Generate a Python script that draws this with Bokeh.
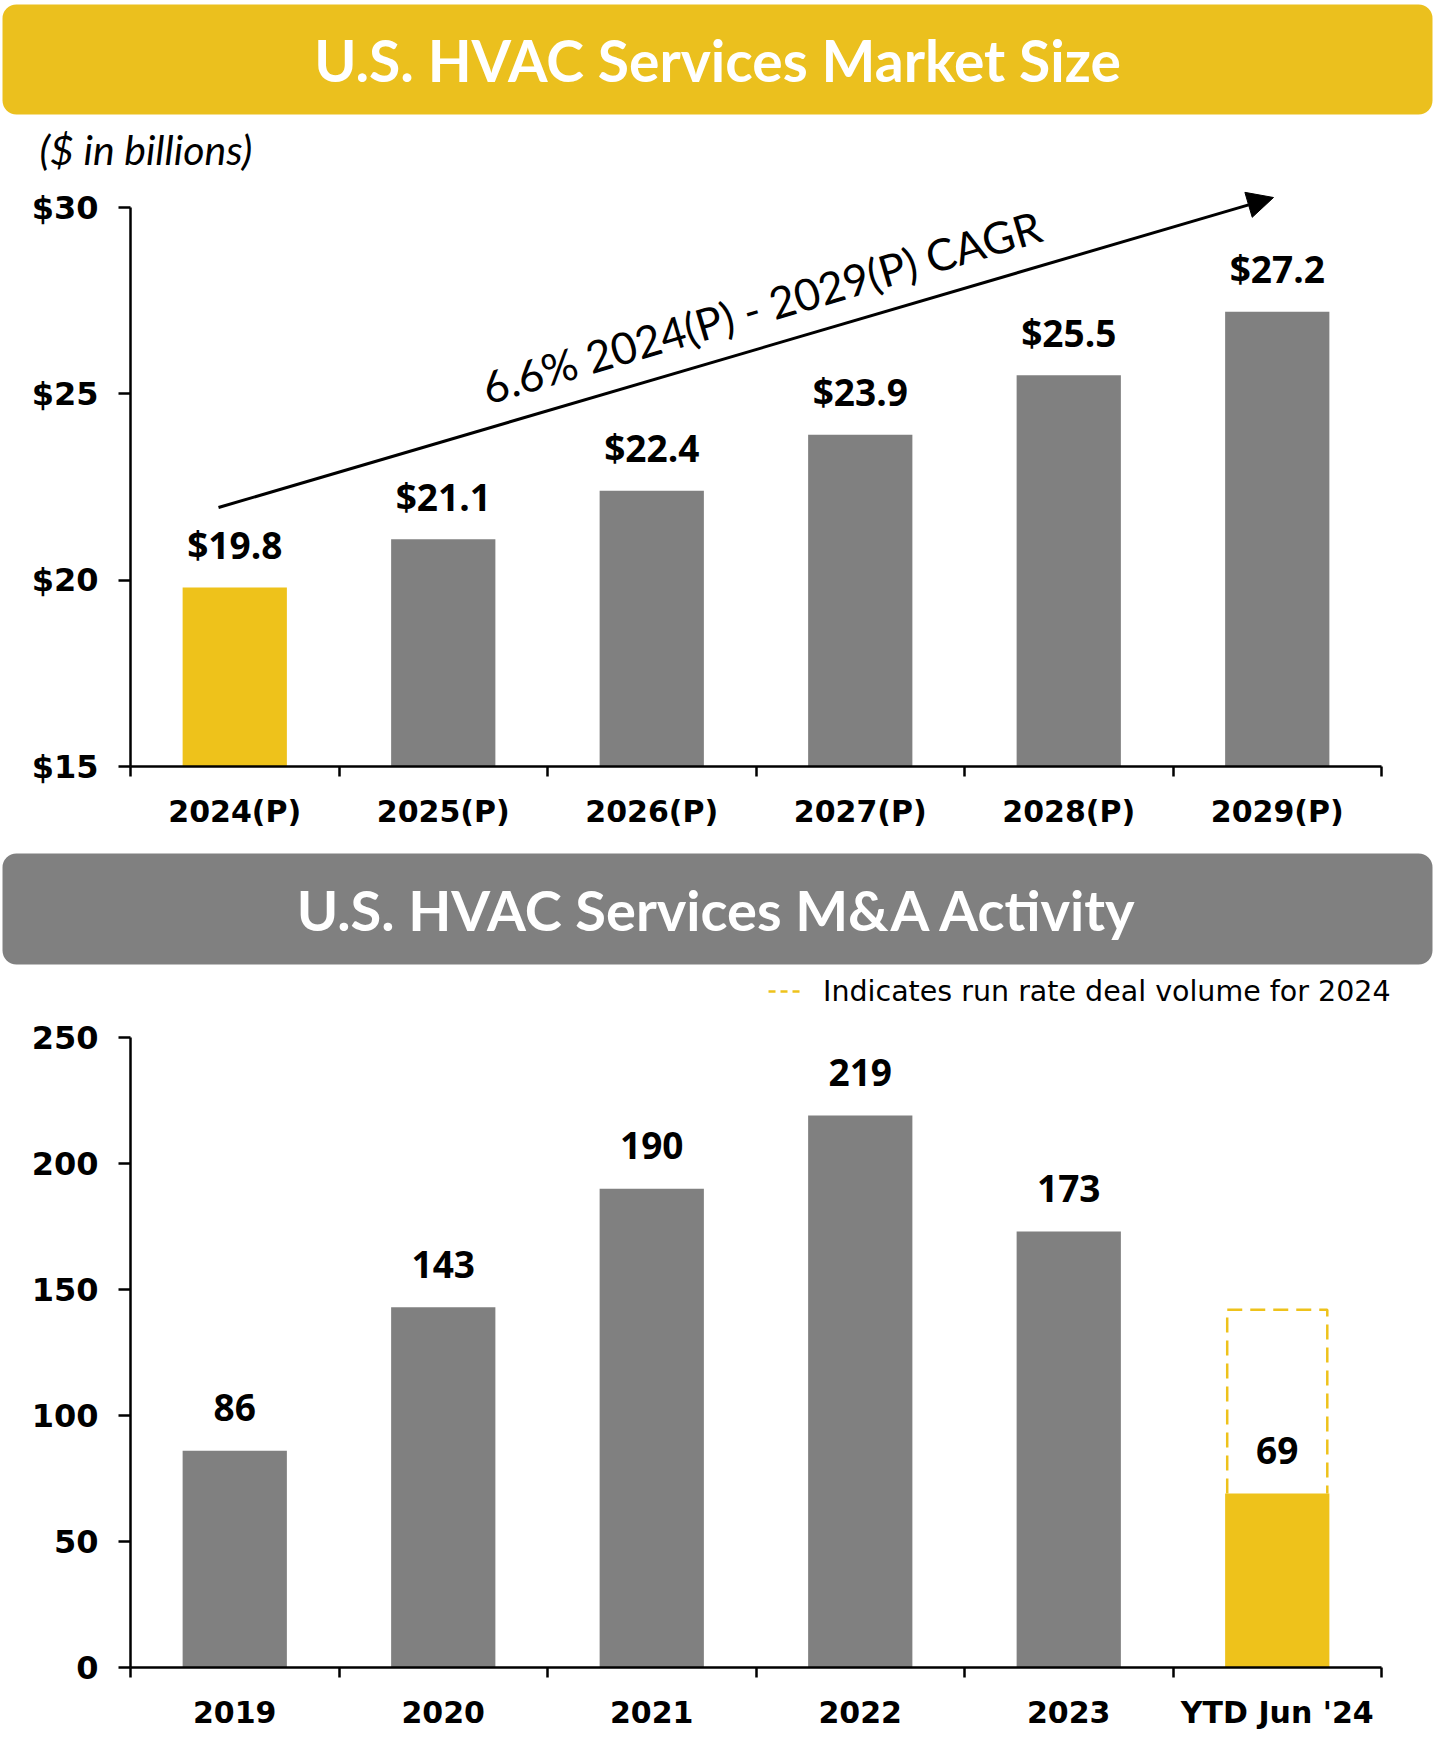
import math
from bokeh.plotting import figure
from bokeh.models import (Range1d, LinearAxis, FixedTicker, BoxAnnotation, Label,
                          Arrow, NormalHead, Legend, LegendItem, NumeralTickFormatter,
                          ColumnDataSource)
from bokeh.layouts import column
from bokeh.embed import file_html
from bokeh.resources import INLINE
from bokeh.core.properties import value

# ---------------- data ----------------
market_years = ["2024(P)", "2025(P)", "2026(P)", "2027(P)", "2028(P)", "2029(P)"]
market_size = [19.8, 21.1, 22.4, 23.9, 25.5, 27.2]
market_ticks = [15, 20, 25, 30]
market_title = "U.S. HVAC Services Market Size"
market_unit = "($ in billions)"
cagr_text = "6.6% 2024(P) - 2029(P) CAGR"

ma_years = ["2019", "2020", "2021", "2022", "2023", "YTD Jun '24"]
ma_deals = [86, 143, 190, 219, 173, 69]
ma_ticks = [0, 50, 100, 150, 200, 250]
ma_run_rate_2024 = 142
ma_title = "U.S. HVAC Services M&A Activity"
ma_legend = "Indicates run rate deal volume for 2024"

# ---------------- styles / layout ----------------
YELLOW = "#EEC21B"
HEAD_YELLOW = "#EBC01E"
GRAY = "#808080"
TICK_FONT = "DejaVu Sans"
VALUE_FONT = "Open Sans"
TITLE_FONT = "Lato"

W = 1434
H1, H2 = 850, 912
N = len(market_years)
AX_L, AX_R = 130, 1381        # page x of the category axis ends
PPX = (AX_R - AX_L) / N

# top chart: $15 at page y 766, $30 at page y 207
PPU1 = (766 - 207) / 15.0
# bottom chart: 0 at page y 1667, 250 at page y 1037
PPU2 = (1667 - 1037) / 250.0


def xd(px):
    return (px - AX_L) / PPX


def y1(py):
    return 15 + (766 - py) / PPU1


def y2(py):
    return (1667 - py) / PPU2


def style_axes(p, yticks, ybase, ytop, cats, yfmt=None):
    ya = LinearAxis(ticker=FixedTicker(ticks=yticks), bounds=(ybase, ytop), fixed_location=0)
    if yfmt is not None:
        ya.formatter = yfmt
    ya.axis_line_width = 2.5
    ya.major_tick_line_width = 2.5
    ya.major_tick_out = 12
    ya.major_tick_in = 0
    ya.minor_tick_out = 0
    ya.minor_tick_in = 0
    ya.major_label_standoff = 20
    ya.major_label_text_font = TICK_FONT
    ya.major_label_text_font_style = "bold"
    ya.major_label_text_font_size = "32px"
    ya.major_label_text_color = "black"
    p.add_layout(ya, "left")

    centers = [i + 0.5 for i in range(len(cats))]
    xa = LinearAxis(ticker=FixedTicker(ticks=centers, minor_ticks=list(range(len(cats) + 1))),
                    bounds=(0, len(cats)), fixed_location=ybase)
    xa.major_label_overrides = {c: t for c, t in zip(centers, cats)}
    xa.axis_line_width = 2.5
    xa.major_tick_out = 0
    xa.major_tick_in = 0
    xa.minor_tick_out = 10
    xa.minor_tick_in = 0
    xa.minor_tick_line_width = 2.5
    xa.major_label_standoff = 17
    xa.major_label_text_font = TICK_FONT
    xa.major_label_text_font_style = "bold"
    xa.major_label_text_font_size = "30px"
    xa.major_label_text_color = "black"
    p.add_layout(xa, "below")


def header(p, yfun, top, bottom, color, text, center_y, size):
    p.add_layout(BoxAnnotation(left=xd(2), right=xd(1432), top=yfun(top), bottom=yfun(bottom),
                               fill_color=color, fill_alpha=1.0, line_color=None,
                               border_radius=14))
    p.add_layout(Label(x=xd(717), y=yfun(center_y), text=text, text_align="center",
                       text_baseline="middle", text_color="white", text_font=TITLE_FONT,
                       text_font_style="bold", text_font_size=size))


def make_fig(height, yr):
    p = figure(width=W, height=height, x_range=Range1d(xd(0), xd(W)), y_range=yr,
               output_backend="svg", toolbar_location=None, x_axis_type=None, y_axis_type=None,
               min_border_left=0, min_border_right=0, min_border_top=0, min_border_bottom=0)
    p.outline_line_color = None
    p.background_fill_color = "white"
    return p


# ---------------- top chart ----------------
p1 = make_fig(H1, Range1d(y1(H1), y1(0)))

x1 = [i + 0.5 for i in range(N)]
c1 = [YELLOW if i == 0 else GRAY for i in range(N)]
p1.vbar(x=x1, top=market_size, bottom=market_ticks[0], width=0.5, fill_color=c1, line_color=None)
p1.text(x=x1, y=market_size, text=[f"${v:.1f}" for v in market_size], text_align="center",
        text_baseline="middle", y_offset=-43, text_font=value(VALUE_FONT),
        text_font_style="bold", text_font_size="37px", text_color="black")
style_axes(p1, market_ticks, market_ticks[0], market_ticks[-1], market_years,
           NumeralTickFormatter(format="$0"))

header(p1, y1, 4, 114, HEAD_YELLOW, market_title, 59, "57px")
p1.add_layout(Label(x=xd(39), y=y1(149), text=market_unit, text_align="left",
                    text_baseline="middle", text_font=TITLE_FONT, text_font_style="italic",
                    text_font_size="41px", text_color="black"))
p1.add_layout(Arrow(x_start=xd(218), y_start=y1(507), x_end=xd(1273), y_end=y1(197),
                    line_width=3, line_color="black",
                    end=NormalHead(size=26, fill_color="black", line_color="black", line_width=1)))
p1.add_layout(Label(x=xd(761), y=y1(306), text=cagr_text, angle=math.radians(16.4),
                    text_align="center", text_baseline="middle", text_font=TITLE_FONT,
                    text_font_size="44px", text_color="black"))

# ---------------- bottom chart ----------------
p2 = make_fig(H2, Range1d(y2(H1 + H2), y2(H1)))

M = len(ma_years)
x2 = [i + 0.5 for i in range(M)]
c2 = [YELLOW if i == M - 1 else GRAY for i in range(M)]
p2.vbar(x=x2, top=ma_deals, bottom=ma_ticks[0], width=0.5, fill_color=c2, line_color=None)

hw = 0.24
xc = x2[-1]
rr_src = ColumnDataSource(dict(
    x=[xc - hw, xc - hw, xc + hw, xc + hw],
    y=[ma_deals[-1], ma_run_rate_2024, ma_run_rate_2024, ma_deals[-1]]))
p2.line(x="x", y="y", source=rr_src, line_color=YELLOW, line_width=2.5, line_dash="15 8")
legend_r = p2.line(x="x", y="y", source=rr_src, line_color=YELLOW, line_width=2.5,
                   line_dash="7 5", visible=False)

p2.text(x=x2, y=ma_deals, text=[str(v) for v in ma_deals], text_align="center",
        text_baseline="middle", y_offset=-43, text_font=value(VALUE_FONT),
        text_font_style="bold", text_font_size="37px", text_color="black")
style_axes(p2, ma_ticks, ma_ticks[0], ma_ticks[-1], ma_years)

header(p2, y2, 853, 964, GRAY, ma_title, 909, "56px")

leg = Legend(items=[LegendItem(label=ma_legend, renderers=[legend_r])],
             location=(768, (1762 - 991) - 17),
             label_text_font=TICK_FONT, label_text_font_size="28.5px", label_text_color="black",
             glyph_width=33, glyph_height=34, label_height=34, label_standoff=22,
             padding=0, margin=0, spacing=0, border_line_color=None,
             background_fill_alpha=0, inactive_fill_alpha=0, click_policy="none")
p2.add_layout(leg)

layout = column(p1, p2, spacing=0)
open("out.html", "w").write(file_html(layout, INLINE))
